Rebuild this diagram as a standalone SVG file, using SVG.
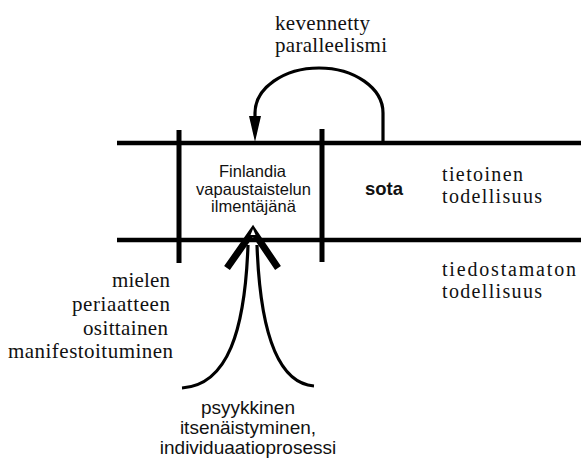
<svg xmlns="http://www.w3.org/2000/svg" width="581" height="463" viewBox="0 0 581 463">
  <style>
    .serif { font-family: "Liberation Serif", "Times New Roman", serif; font-size: 21px; fill: #111; }
    .side { font-size: 20px; }
    .sans { font-family: "Liberation Sans", Arial, sans-serif; font-size: 16.5px; fill: #111; }
    .big { font-size: 19px; }
    .bold { font-weight: bold; font-size: 18.5px; }
    .rule { stroke: #000; stroke-width: 4.5; fill: none; }
    .post { stroke: #000; stroke-width: 5; fill: none; }
    .flow { stroke: #000; stroke-width: 3.2; fill: none; }
  </style>
  <rect width="581" height="463" fill="#fff"/>

  <g id="connectors">
    <!-- two levels of reality -->
    <line class="rule" x1="117" y1="143" x2="581" y2="143"/>
    <line class="rule" x1="117" y1="240" x2="581" y2="240"/>
    <!-- vertical borders of the central field -->
    <line class="post" x1="179" y1="130" x2="179" y2="263"/>
    <line class="post" x1="322" y1="129" x2="322" y2="262"/>
    <!-- loop from the war back into the central field -->
    <path class="flow" d="M383 142 L383 113 A64 45 0 0 0 255 113 L255 118"/>
    <polygon points="249,116 261,116 255,142" fill="#000"/>
    <!-- upward caret and rising streams -->
    <polyline points="227,268 253,231 278,268" fill="none" stroke="#000" stroke-width="7" stroke-linejoin="miter"/>
    <polygon points="253,229 250.5,235 255.5,235" fill="#fff"/>
    <path class="flow" stroke-width="4.5" d="M248 245 C245 330 228 385 182 388"/>
    <path class="flow" stroke-width="4.5" d="M257 245 C260 330 277 383 314 386"/>
  </g>

  <g id="node-loop-label">
    <text class="serif" x="275" y="30" textLength="95" lengthAdjust="spacing">kevennetty</text>
    <text class="serif" x="275" y="52" textLength="112" lengthAdjust="spacing">paralleelismi</text>
  </g>

  <g id="node-finlandia">
    <text class="sans" x="219" y="177" textLength="67" lengthAdjust="spacing">Finlandia</text>
    <text class="sans" x="196" y="195" textLength="115" lengthAdjust="spacing">vapaustaistelun</text>
    <text class="sans" x="211" y="212" textLength="85" lengthAdjust="spacing">ilmentäjänä</text>
  </g>

  <g id="node-sota">
    <text class="sans bold" x="365" y="195">sota</text>
  </g>

  <g id="node-conscious">
    <text class="serif side" x="442" y="181" textLength="81" lengthAdjust="spacing">tietoinen</text>
    <text class="serif side" x="442" y="203" textLength="100" lengthAdjust="spacing">todellisuus</text>
  </g>

  <g id="node-unconscious">
    <text class="serif side" x="442" y="276" textLength="134" lengthAdjust="spacing">tiedostamaton</text>
    <text class="serif side" x="442" y="298" textLength="100" lengthAdjust="spacing">todellisuus</text>
  </g>

  <g id="node-manifestation">
    <text class="serif" x="112" y="287" textLength="58" lengthAdjust="spacing">mielen</text>
    <text class="serif" x="72" y="311" textLength="98" lengthAdjust="spacing">periaatteen</text>
    <text class="serif" x="83" y="335" textLength="85" lengthAdjust="spacing">osittainen</text>
    <text class="serif" x="8" y="358" textLength="165" lengthAdjust="spacing">manifestoituminen</text>
  </g>

  <g id="node-individuation">
    <text class="sans big" x="248" y="414" text-anchor="middle">psyykkinen</text>
    <text class="sans big" x="248" y="434" text-anchor="middle">itsenäistyminen,</text>
    <text class="sans big" x="248" y="454" text-anchor="middle">individuaatioprosessi</text>
  </g>
</svg>
